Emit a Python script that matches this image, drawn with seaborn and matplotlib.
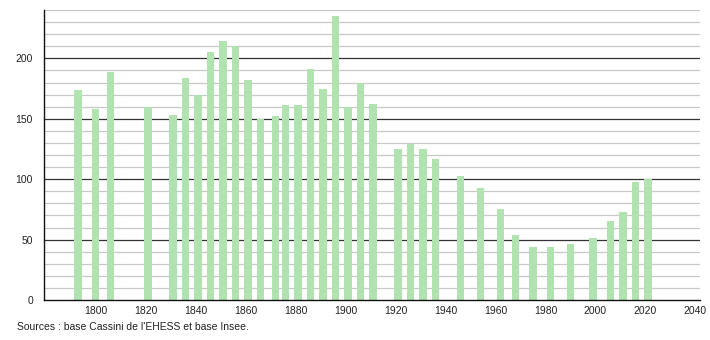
import matplotlib
matplotlib.use("Agg")
import matplotlib.pyplot as plt
import seaborn as sns
import pandas as pd
from matplotlib.ticker import MultipleLocator

years = [1793, 1800, 1806, 1821, 1831, 1836, 1841, 1846, 1851, 1856,
         1861, 1866, 1872, 1876, 1881, 1886, 1891, 1896, 1901, 1906,
         1911, 1921, 1926, 1931, 1936, 1946, 1954, 1962, 1968, 1975,
         1982, 1990, 1999, 2006, 2011, 2016, 2021]
population = [174, 158, 189, 160, 153, 184, 170, 205, 214, 210,
              182, 150, 152, 161, 161, 191, 175, 235, 160, 180,
              162, 125, 129, 125, 117, 103, 93, 75, 54, 44,
              44, 46, 51, 65, 73, 98, 100]
x_ticks = [1800, 1820, 1840, 1860, 1880, 1900, 1920, 1940, 1960, 1980, 2000, 2020, 2040]
y_ticks = [0, 50, 100, 150, 200]
source_text = "Sources : base Cassini de l'EHESS et base Insee."

df = pd.DataFrame({"year": years, "population": population})

sns.set_style("white")
plt.rcParams["font.family"] = ["Liberation Sans Narrow", "Liberation Sans", "DejaVu Sans"]

fig = plt.figure(figsize=(7.1, 3.4), dpi=100)
ax = fig.add_axes([44 / 710, 40 / 340, 656 / 710, 290 / 340])

# gridlines
for v in range(10, 241, 10):
    if v % 50 == 0:
        ax.axhline(v, color="#333333", lw=0.9, zorder=0.5)
    else:
        ax.axhline(v, color="#c8c8c8", lw=0.9, zorder=0.5)

sns.barplot(data=df, x="year", y="population", native_scale=True, width=0.8,
            color="#b1e3b1", saturation=1, ax=ax, zorder=2, edgecolor="none")

ax.set_xlim(1779.4, 2041.8)
ax.set_ylim(0, 240)
ax.set_xticks(x_ticks)
ax.set_yticks(y_ticks)
ax.yaxis.set_minor_locator(MultipleLocator(10))
ax.set_xlabel("")
ax.set_ylabel("")
ax.tick_params(axis="x", length=0, labelsize=7.5, pad=4, colors="#222222")
ax.tick_params(axis="y", which="major", length=5, width=0.9, labelsize=7.5, pad=3,
               colors="#222222", direction="out")
ax.tick_params(axis="y", which="minor", length=3, width=0.8, color="#222222", direction="out")
for s in ["top", "right"]:
    ax.spines[s].set_visible(False)
for s in ["left", "bottom"]:
    ax.spines[s].set_visible(True)
    ax.spines[s].set_color("#111111")
    ax.spines[s].set_linewidth(1.0)

fig.text(17 / 710, 1 - 327 / 340, source_text, fontsize=7.5, color="#222222",
         va="center", ha="left")

fig.savefig("out.png", dpi=100)
